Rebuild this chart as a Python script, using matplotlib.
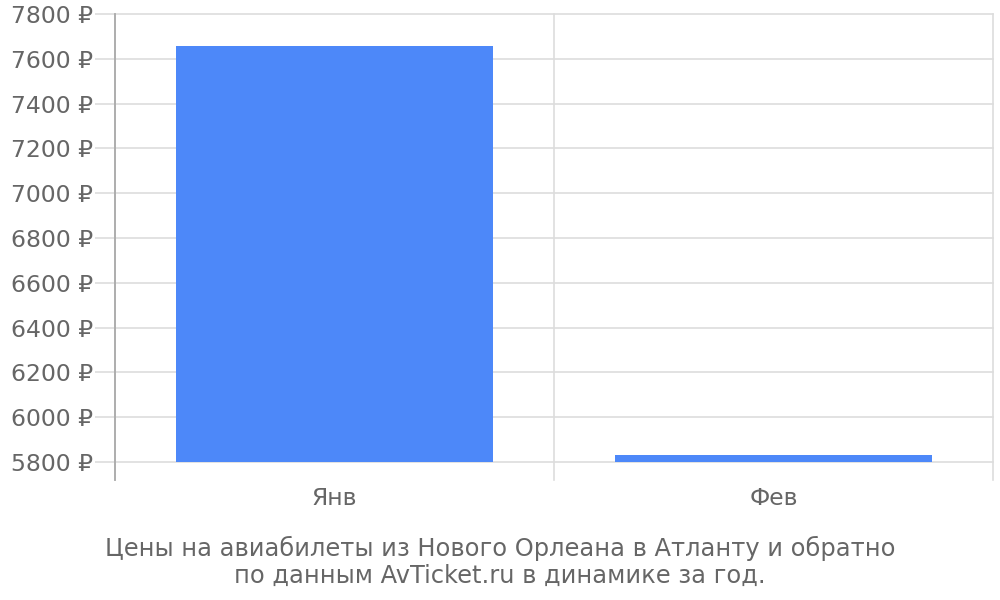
import matplotlib
matplotlib.use("Agg")
import matplotlib.pyplot as plt

categories = ["Янв", "Фев"]
prices = [7655, 5830]
yticks = [5800, 6000, 6200, 6400, 6600, 6800, 7000, 7200, 7400, 7600, 7800]
caption = "Цены на авиабилеты из Нового Орлеана в Атланту и обратно\nпо данным AvTicket.ru в динамике за год."

base = 5800
fig = plt.figure(figsize=(10, 6), dpi=100)
ax = fig.add_axes([0.115, 0.2, 0.878, 0.7767])
x = list(range(len(categories)))
ax.bar(x, [p - base for p in prices], bottom=base, width=0.72, color="#4d88f9", zorder=3)
ax.set_xlim(-0.5, len(categories) - 0.5)
ax.set_ylim(5720, 7800)
ax.set_yticks(yticks)
ax.set_yticklabels([f"{v} ₽" for v in yticks])
for v in yticks:
    ax.axhline(v, color="#dddddd", linewidth=1.2, zorder=0, clip_on=False)
for b in [i - 0.5 for i in range(len(categories) + 1)]:
    ax.axvline(b, color="#dddddd", linewidth=1.2, zorder=0, clip_on=False)
ax.set_xticks(x)
ax.set_xticklabels(categories)
for s in ["top", "right", "bottom"]:
    ax.spines[s].set_visible(False)
ax.spines["left"].set_color("#aaaaaa")
ax.spines["left"].set_linewidth(1.3)
ax.tick_params(axis="y", length=14.4, color="#dddddd", width=1.2, labelsize=16.9, labelcolor="#666666", pad=1.5)
ax.tick_params(axis="x", length=0, labelsize=16.9, labelcolor="#666666", pad=5)
fig.text(0.5, 0.063, caption, ha="center", va="center", fontsize=17.4, color="#666666", linespacing=1.17)
fig.savefig("out.png", dpi=100)
